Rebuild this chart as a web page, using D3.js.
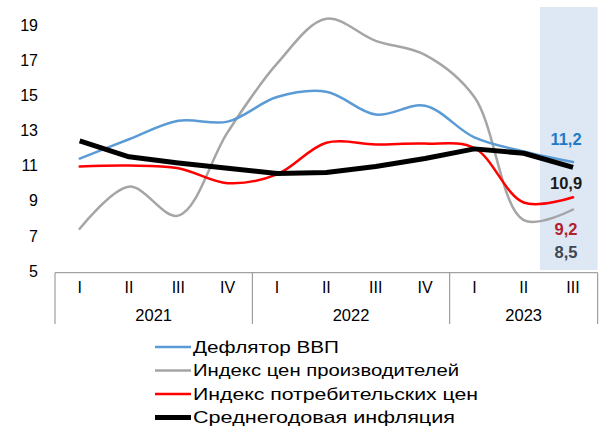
<!DOCTYPE html>
<html>
<head>
<meta charset="utf-8">
<script src="https://cdn.jsdelivr.net/npm/d3@7"></script>
<style>
  html, body { margin: 0; padding: 0; background: #fff; }
  svg { display: block; font-family: "Liberation Sans", Arial, sans-serif; }
</style>
</head>
<body>
<svg id="chart" width="603" height="427"></svg>
<script>
// ---- data ----
const quarters = ["I","II","III","IV","I","II","III","IV","I","II","III"];
const quarterYears = ["2021","2021","2021","2021","2022","2022","2022","2022","2023","2023","2023"];
const years = ["2021","2022","2023"];
const yTicks = [5, 7, 9, 11, 13, 15, 17, 19];

const seriesNames = ["Дефлятор ВВП", "Индекс цен производителей", "Индекс потребительских цен", "Среднегодовая инфляция"];
const deflator = [11.4, 12.5, 13.55, 13.5, 14.9, 15.2, 13.9, 14.4, 12.6, 11.8, 11.2];
const ppi      = [7.4, 9.8, 8.15, 12.9, 16.8, 19.35, 18.1, 17.3, 14.9, 7.9, 8.5];
const cpi      = [10.95, 11.0, 10.85, 10.0, 10.5, 12.3, 12.2, 12.25, 12.0, 8.9, 9.2];
const avgInfl  = [12.4, 11.5, 11.15, 10.85, 10.55, 10.6, 10.95, 11.4, 11.95, 11.7, 10.9];
const endLabels = ["11,2", "8,5", "9,2", "10,9"];

// ---- styles ----
const colors = ["#5b9bd5", "#a5a5a5", "#ff0000", "#000000"];
const widths = [2.5, 2.5, 2.5, 5];
const smooth = [true, true, true, false];
const labelColors = ["#1f7bc8", "#3d4652", "#b2202f", "#1a1a1a"];
const labelOffsets = [-23, 43, 32, 16];
const legendTextWidths = [146, 266, 285, 262];

const svg = d3.select("#chart");
const plotLeft = 55, plotRight = 597.7, plotTop = 25, plotBottom = 271, axisY = 272.7;

const x = d3.scaleBand().domain(d3.range(quarters.length)).range([plotLeft, plotRight]).padding(0);
const y = d3.scaleLinear().domain([5, 19]).range([plotBottom, plotTop]);
const cx = i => x(i) + x.bandwidth() / 2;

// highlight band for last quarter
const lastI = quarters.length - 1;
svg.append("rect")
  .attr("x", cx(lastI) - 33).attr("y", 7)
  .attr("width", plotRight - (cx(lastI) - 33)).attr("height", plotBottom - 7 - 1)
  .attr("fill", "#dde8f4");

// y axis labels
svg.append("g").selectAll("text").data(yTicks).join("text")
  .attr("x", 38).attr("y", d => y(d)).attr("dy", "0.36em")
  .attr("text-anchor", "end").attr("font-size", 16).attr("fill", "#000")
  .text(d => d);

// x axis (multi-level)
const axisG = svg.append("g");
axisG.append("line").attr("x1", plotLeft).attr("x2", plotRight).attr("y1", axisY).attr("y2", axisY)
  .attr("stroke", "#8c8c8c").attr("stroke-width", 1);
const boundaries = [0];
quarterYears.forEach((yr, i) => { if (i > 0 && yr !== quarterYears[i - 1]) boundaries.push(i); });
const sepXs = boundaries.map(i => x(i)).concat([plotRight]);
axisG.selectAll("line.sep").data(sepXs).join("line").attr("class", "sep")
  .attr("x1", d => d).attr("x2", d => d).attr("y1", axisY).attr("y2", 324)
  .attr("stroke", "#8c8c8c").attr("stroke-width", 1);
axisG.selectAll("text.q").data(quarters).join("text").attr("class", "q")
  .attr("x", (d, i) => cx(i)).attr("y", 293).attr("text-anchor", "middle")
  .attr("font-size", 16).text(d => d);
axisG.selectAll("text.yr").data(years).join("text").attr("class", "yr")
  .attr("x", yr => {
    const idx = d3.range(quarters.length).filter(i => quarterYears[i] === yr);
    return (cx(idx[0]) + cx(idx[idx.length - 1])) / 2;
  })
  .attr("y", 321).attr("text-anchor", "middle").attr("font-size", 16.5).text(d => d);

// lines
const allSeries = [deflator, ppi, cpi, avgInfl];
const drawOrder = [1, 0, 2, 3];
drawOrder.forEach(k => {
  const line = d3.line().x((d, i) => cx(i)).y(d => y(d))
    .curve(smooth[k] ? d3.curveCatmullRom.alpha(0.5) : d3.curveLinear);
  svg.append("path").datum(allSeries[k]).attr("d", line)
    .attr("fill", "none").attr("stroke", colors[k]).attr("stroke-width", widths[k])
    .attr("stroke-linejoin", "round").attr("stroke-linecap", k === 3 ? "butt" : "round");
});

// end labels
[0, 3, 2, 1].forEach(k => {
  const v = allSeries[k][lastI];
  svg.append("text").attr("x", cx(lastI) - 7).attr("y", y(v) + labelOffsets[k]).attr("dy", "0.36em")
    .attr("text-anchor", "middle").attr("font-size", 16.5).attr("font-weight", "bold")
    .attr("fill", labelColors[k]).text(endLabels[k]);
});

// legend
const legendG = svg.append("g");
seriesNames.forEach((name, k) => {
  const ry = 347 + k * 23.5;
  legendG.append("line").attr("x1", 155).attr("x2", 191).attr("y1", ry).attr("y2", ry)
    .attr("stroke", colors[k]).attr("stroke-width", widths[k]);
  legendG.append("text").attr("x", 193).attr("y", ry).attr("dy", "0.34em")
    .attr("font-size", 16.5).attr("textLength", legendTextWidths[k]).attr("lengthAdjust", "spacingAndGlyphs")
    .text(name);
});
</script>
</body>
</html>
